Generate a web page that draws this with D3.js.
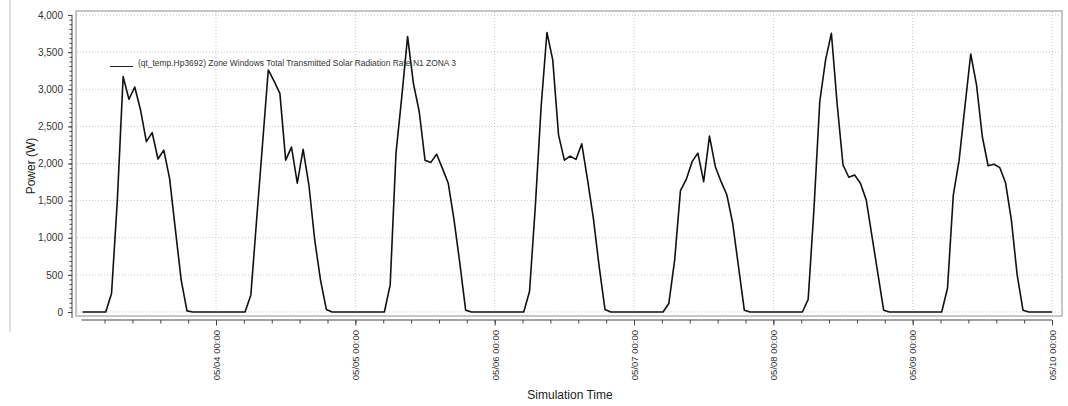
<!DOCTYPE html>
<html>
<head>
<meta charset="utf-8">
<script src="https://cdn.jsdelivr.net/npm/d3@7"></script>
<style>
  body { margin: 0; background: #fff; }
  text { font-family: "Liberation Sans", Arial, sans-serif; }
</style>
</head>
<body>
<div id="chart"></div>
<script>
const width = 1068
const height = 406

// valores horarios, horas 01..24 de cada dia (la hora 24 es las 00:00 del dia siguiente)
const dayLabels = ["05/03", "05/04", "05/05", "05/06", "05/07", "05/08", "05/09"]
const day0503 = [0, 0, 0, 0, 0, 250, 1500, 3170, 2865, 3030, 2720, 2295, 2415, 2060, 2180, 1800, 1110, 430, 15, 0, 0, 0, 0, 0]
const day0504 = [0, 0, 0, 0, 0, 230, 1250, 2250, 3260, 3110, 2945, 2045, 2220, 1735, 2190, 1710, 970, 430, 35, 0, 0, 0, 0, 0]
const day0505 = [0, 0, 0, 0, 0, 365, 2140, 2900, 3710, 3080, 2700, 2045, 2015, 2125, 1935, 1735, 1240, 655, 25, 0, 0, 0, 0, 0]
const day0506 = [0, 0, 0, 0, 0, 275, 1420, 2765, 3765, 3395, 2385, 2045, 2100, 2055, 2265, 1780, 1260, 610, 35, 0, 0, 0, 0, 0]
const day0507 = [0, 0, 0, 0, 0, 115, 700, 1635, 1785, 2025, 2140, 1755, 2370, 1960, 1755, 1575, 1195, 610, 25, 0, 0, 0, 0, 0]
const day0508 = [0, 0, 0, 0, 0, 170, 1390, 2835, 3395, 3755, 2795, 1980, 1815, 1845, 1735, 1510, 1015, 520, 25, 0, 0, 0, 0, 0]
const day0509 = [0, 0, 0, 0, 0, 320, 1575, 2045, 2765, 3475, 3060, 2360, 1970, 1990, 1945, 1740, 1240, 500, 25, 0, 0, 0, 0, 0]
const dailyValues = [day0503, day0504, day0505, day0506, day0507, day0508, day0509]

const yTicks = [0, 500, 1000, 1500, 2000, 2500, 3000, 3500, 4000]
const seriesName = "(qt_temp.Hp3692) Zone Windows Total Transmitted Solar Radiation Rate,N1 ZONA 3"
const xTitle = "Simulation Time"
const yTitle = "Power (W)"

// serie completa
const data = []
dailyValues.forEach((vals, i) => {
    const [mm, dd] = dayLabels[i].split("/").map(Number)
    vals.forEach((v, h) => {
        data.push({ t: new Date(Date.UTC(2020, mm - 1, dd, h + 1)), v: v })
    })
})

const svg = d3.select("div#chart")
    .append("svg")
    .attr("width", width)
    .attr("height", height)

// borde de la ventana
svg.append("line")
    .attr("x1", 10).attr("x2", 10).attr("y1", 0).attr("y2", 332)
    .attr("stroke", "#d4d4d4").attr("stroke-width", 1.5)

// marco del area del grafico
svg.append("rect")
    .attr("x", 76).attr("y", 11)
    .attr("width", 1062 - 76).attr("height", 316 - 11)
    .attr("fill", "none").attr("stroke", "#b4b4b4").attr("stroke-width", 1.5)

const x = d3.scaleUtc()
    .domain([data[0].t, data[data.length - 1].t])
    .range([82.5, 1052])
const y = d3.scaleLinear().domain([0, 4000]).range([312, 15])

const dayTicks = d3.utcDay.range(new Date(Date.UTC(2020, 4, 4)), new Date(Date.UTC(2020, 4, 10, 1)))

// rejilla
const grid = svg.append("g")
grid.selectAll("line.h").data(yTicks)
    .join("line")
    .attr("class", "h")
    .attr("x1", 77).attr("x2", 1061)
    .attr("y1", d => y(d)).attr("y2", d => y(d))
    .attr("stroke", "#c6c6c6").attr("stroke-dasharray", "1,2")
grid.selectAll("line.v").data(dayTicks)
    .join("line")
    .attr("class", "v")
    .attr("x1", d => x(d)).attr("x2", d => x(d))
    .attr("y1", 12).attr("y2", 315)
    .attr("stroke", "#c6c6c6").attr("stroke-dasharray", "1,2")

// eje y con marcas menores
const yMinor = d3.range(0, 4000.1, 62.5)
const yAxisMinor = d3.axisLeft(y).tickValues(yMinor).tickSize(2.5).tickFormat("")
const yAxis = d3.axisLeft(y).tickValues(yTicks).tickSize(4).tickPadding(5)
    .tickFormat(d3.format(","))
svg.append("g").attr("transform", "translate(72,0)").call(yAxisMinor)
    .call(g => g.select(".domain").remove())
    .selectAll("line").attr("stroke", "#444")
const yG = svg.append("g").attr("transform", "translate(72,0)").call(yAxis)
yG.select(".domain").attr("d", `M0,${y(4000)}V${y(0) + 6}`).attr("stroke", "#444")
yG.selectAll("line").attr("stroke", "#444")
yG.selectAll("text").attr("font-size", 10).attr("fill", "#333")
    .style("font-family", "'Liberation Sans', Arial, sans-serif")

// eje x
const xMinor = d3.range(-4, 31).map(i => new Date(Date.UTC(2020, 4, 4) + i * 864e5 / 5))
    .filter(d => d >= data[0].t && d <= data[data.length - 1].t)
const xAxisMinor = d3.axisBottom(x).tickValues(xMinor).tickSize(3.5).tickFormat("")
const xAxis = d3.axisBottom(x).tickValues(dayTicks).tickSize(5.5)
    .tickFormat(d3.utcFormat("%m/%d %H:%M"))
svg.append("g").attr("transform", "translate(0,320)").call(xAxisMinor)
    .call(g => g.select(".domain").remove())
    .selectAll("line").attr("stroke", "#444")
const xG = svg.append("g").attr("transform", "translate(0,320)").call(xAxis)
xG.select(".domain").attr("d", `M${x(data[0].t) - 1},0H${x(data[data.length - 1].t)}`).attr("stroke", "#444")
xG.selectAll("line").attr("stroke", "#444")
xG.selectAll("text")
    .attr("font-size", 9.5).attr("fill", "#333")
    .style("font-family", "'Liberation Sans', Arial, sans-serif")
    .attr("text-anchor", "end")
    .attr("transform", "rotate(-90)")
    .attr("x", -10).attr("y", 0).attr("dy", "0.35em")

// titulos
svg.append("text")
    .attr("x", 570).attr("y", 399)
    .attr("text-anchor", "middle").attr("font-size", 12).attr("fill", "#222")
    .text(xTitle)
svg.append("text")
    .attr("transform", "translate(35,166) rotate(-90)")
    .attr("text-anchor", "middle").attr("font-size", 12).attr("fill", "#222")
    .text(yTitle)

// serie
const line = d3.line().x(d => x(d.t)).y(d => y(d.v))
svg.append("path").datum(data)
    .attr("d", line)
    .attr("fill", "none")
    .attr("stroke", "#111")
    .attr("stroke-width", 1.6)
    .attr("stroke-linejoin", "round")

// leyenda
svg.append("line")
    .attr("x1", 110).attr("x2", 133).attr("y1", 66.5).attr("y2", 66.5)
    .attr("stroke", "#222").attr("stroke-width", 1)
svg.append("text")
    .attr("x", 138).attr("y", 66)
    .attr("font-size", 8.5).attr("fill", "#333")
    .attr("textLength", 318).attr("lengthAdjust", "spacingAndGlyphs")
    .text(seriesName)
</script>
</body>
</html>
